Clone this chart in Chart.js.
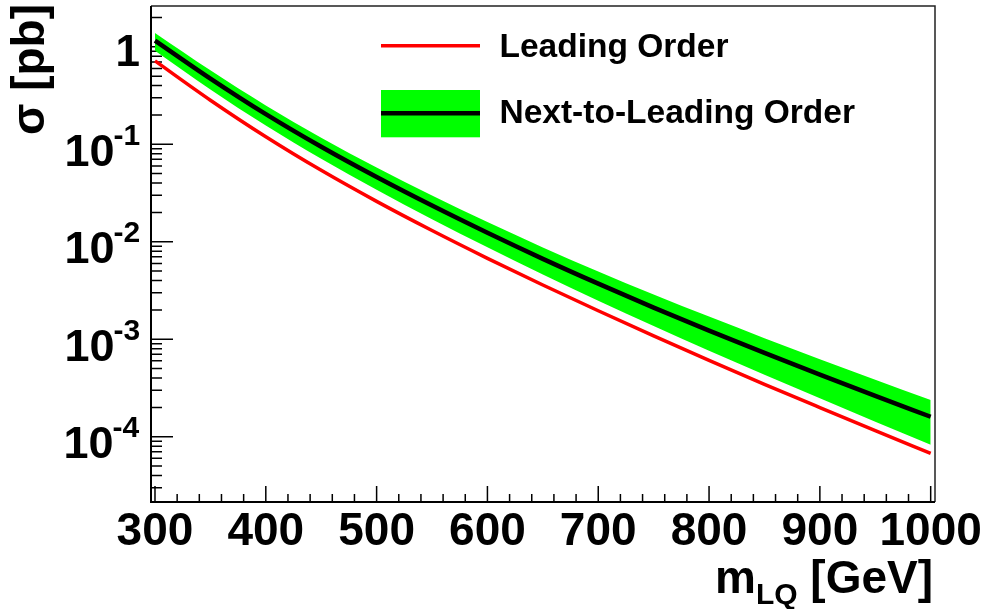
<!DOCTYPE html>
<html>
<head>
<meta charset="utf-8">
<title>Leptoquark pair production cross section</title>
<script src="https://cdn.jsdelivr.net/npm/chart.js@4.4.1/dist/chart.umd.min.js"></script>
<style>
  body { margin: 0; background: #fff; }
  #wrap { width: 987px; height: 609px; }
</style>
</head>
<body>
<div id="wrap"><canvas id="xsecChart" width="987" height="609"></canvas></div>
<script>
// leptoquark mass points [GeV]
const masses = [300, 350, 400, 450, 500, 550, 600, 650, 700, 750, 800, 850, 900, 950, 1000];

// cross sections [pb]
const loXsec = [0.716, 0.2831, 0.1194, 0.0540, 0.02594, 0.01303, 0.00676, 0.003597, 0.001959, 0.001084,
  0.000608, 0.000345, 0.000199, 0.0001156, 0.0000675];
const nloXsec = [1.159, 0.472, 0.2037, 0.0942, 0.0461, 0.0235, 0.01236, 0.00668, 0.003715, 0.002113,
  0.001227, 0.000724, 0.0004335, 0.0002624, 0.0001603];
// NLO uncertainty band edges
const nloUp = [1.387, 0.573, 0.250, 0.1169, 0.0579, 0.02985, 0.01592, 0.00875, 0.004955, 0.002877,
  0.001706, 0.001026, 0.000625, 0.000385, 0.000238];
const nloDown = [0.910, 0.3656, 0.1556, 0.0710, 0.0342, 0.01706, 0.00877, 0.00461, 0.002483, 0.001365,
  0.000762, 0.000433, 0.000248, 0.0001426, 0.0000826];

// axis labels
const xTicks = [300, 400, 500, 600, 700, 800, 900, 1000];
const yDecades = [1, 0.1, 0.01, 0.001, 0.0001];
const yTickBase = ['1', '10', '10', '10', '10'];
const yTickExp = ['', '-1', '-2', '-3', '-4'];

const FAMILY = '"Liberation Sans", Arial, Helvetica, sans-serif';
const bold = (size) => `bold ${size}px ${FAMILY}`;

const toPoints = (vals) => masses.map((m, i) => ({ x: m, y: vals[i] }));

// ticks, frame, labels and legend drawn by hand (inward ticks, superscript exponents)
const rootStyle = {
  id: 'rootStyle',
  beforeDatasetsDraw(chart) {
    const { ctx, chartArea: a, scales: { x, y } } = chart;
    ctx.save();
    ctx.strokeStyle = '#000';
    ctx.lineWidth = 1.5;
    ctx.beginPath();
    // x: major every 100, minor every 20
    for (let m = 300; m <= 1000; m += 20) {
      const px = x.getPixelForValue(m);
      const len = m % 100 === 0 ? 16 : 8;
      ctx.moveTo(px, a.bottom);
      ctx.lineTo(px, a.bottom - len);
    }
    // y: decades plus 2..9 in between
    for (let k = -5; k <= 0; k++) {
      for (let j = 1; j <= 9; j++) {
        const v = j * Math.pow(10, k);
        if (v < y.min || v > y.max) continue;
        const py = y.getPixelForValue(v);
        const len = j === 1 ? 22 : 11;
        ctx.moveTo(a.left, py);
        ctx.lineTo(a.left + len, py);
      }
    }
    ctx.stroke();
    ctx.restore();
  },
  afterDraw(chart) {
    const { ctx, chartArea: a, scales: { x, y } } = chart;
    const ds = chart.data.datasets;
    ctx.save();

    // frame
    ctx.strokeStyle = '#222';
    ctx.lineWidth = 1.5;
    ctx.beginPath();
    ctx.moveTo(a.left, a.top);
    ctx.lineTo(a.right, a.top);
    ctx.lineTo(a.right, a.bottom);
    ctx.stroke();
    ctx.strokeStyle = '#000';
    ctx.lineWidth = 2;
    ctx.beginPath();
    ctx.moveTo(a.left, a.top);
    ctx.lineTo(a.left, a.bottom);
    ctx.lineTo(a.right, a.bottom);
    ctx.stroke();

    ctx.fillStyle = '#000';
    ctx.textBaseline = 'alphabetic';

    // x tick labels
    ctx.font = bold(46);
    ctx.textAlign = 'center';
    xTicks.forEach(v => ctx.fillText(String(v), x.getPixelForValue(v), 545));

    // y tick labels, right edge of the ink at 139.5
    ctx.textAlign = 'left';
    const rightEdge = 139.5;
    yDecades.forEach((v, i) => {
      const py = y.getPixelForValue(v);
      if (!yTickExp[i]) {
        ctx.font = bold(44);
        const w = ctx.measureText(yTickBase[i]).actualBoundingBoxRight;
        ctx.fillText(yTickBase[i], rightEdge - w, py + 19);
        return;
      }
      ctx.font = bold(30);
      const expM = ctx.measureText(yTickExp[i]);
      const expX = rightEdge - expM.actualBoundingBoxRight;
      ctx.fillText(yTickExp[i], expX, py + 0.5);
      ctx.font = bold(45);
      const baseW = ctx.measureText(yTickBase[i]).width;
      ctx.fillText(yTickBase[i], expX - baseW + 1, py + 21.5);
    });

    // y title
    ctx.save();
    ctx.translate(43.5, 4);
    ctx.rotate(-Math.PI / 2);
    ctx.font = bold(46);
    ctx.textAlign = 'right';
    ctx.fillText('σ [pb]', 0, 0);
    ctx.restore();

    // x title: m with subscript LQ
    ctx.textAlign = 'left';
    ctx.font = bold(46);
    const wM = ctx.measureText('m').width;
    const wRest = ctx.measureText(' [GeV]').width;
    ctx.font = bold(30);
    const wSub = ctx.measureText('LQ').width;
    const x0 = 933 - wRest - wSub - wM;
    ctx.font = bold(46);
    ctx.fillText('m', x0, 593);
    ctx.fillText(' [GeV]', x0 + wM + wSub, 593);
    ctx.font = bold(30);
    ctx.fillText('LQ', x0 + wM, 604);

    // legend
    ctx.strokeStyle = ds[1].borderColor;
    ctx.lineWidth = ds[1].borderWidth;
    ctx.beginPath();
    ctx.moveTo(381, 45.7);
    ctx.lineTo(480, 45.7);
    ctx.stroke();
    ctx.fillStyle = ds[2].backgroundColor;
    ctx.fillRect(381, 90, 99, 47.3);
    ctx.strokeStyle = ds[0].borderColor;
    ctx.lineWidth = ds[0].borderWidth;
    ctx.beginPath();
    ctx.moveTo(381, 113.3);
    ctx.lineTo(480, 113.3);
    ctx.stroke();
    ctx.fillStyle = '#000';
    ctx.font = bold(33.5);
    ctx.fillText(ds[1].label, 499.5, 57.3);
    ctx.fillText(ds[0].label, 499.5, 123.3);

    ctx.restore();
  }
};

const lineBase = {
  pointRadius: 0,
  cubicInterpolationMode: 'monotone',
  fill: false
};

new Chart(document.getElementById('xsecChart'), {
  type: 'line',
  data: {
    datasets: [
      { ...lineBase, label: 'Next-to-Leading Order', data: toPoints(nloXsec), borderColor: '#000000', borderWidth: 4.5 },
      { ...lineBase, label: 'Leading Order', data: toPoints(loXsec), borderColor: '#ff0000', borderWidth: 3.5 },
      { ...lineBase, label: 'NLO up', data: toPoints(nloUp), borderWidth: 0, borderColor: 'rgba(0,0,0,0)',
        backgroundColor: '#00ff00', fill: '+1' },
      { ...lineBase, label: 'NLO down', data: toPoints(nloDown), borderWidth: 0, borderColor: 'rgba(0,0,0,0)' }
    ]
  },
  options: {
    responsive: false,
    animation: false,
    devicePixelRatio: 1,
    events: [],
    layout: { padding: { left: 151, right: 52, top: 6, bottom: 107 } },
    scales: {
      x: { type: 'linear', min: 296.4, max: 1003.9, display: false },
      y: { type: 'logarithmic', min: 2.14e-5, max: 2.62, display: false }
    },
    plugins: {
      legend: { display: false },
      tooltip: { enabled: false }
    }
  },
  plugins: [rootStyle]
});
</script>
</body>
</html>
